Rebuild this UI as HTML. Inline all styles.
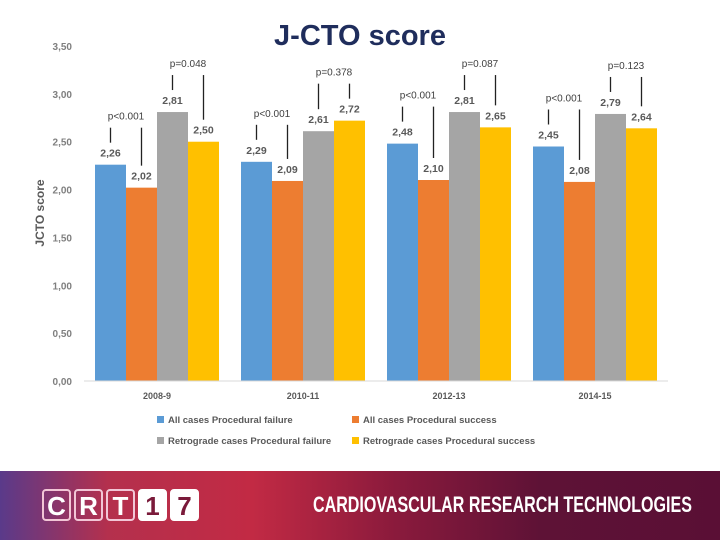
<!DOCTYPE html>
<html><head><meta charset="utf-8"><style>
body{margin:0;width:720px;height:540px;background:#fff;position:relative;overflow:hidden;font-family:"Liberation Sans",sans-serif}
#title{position:absolute;left:0;width:720px;top:20px;text-align:center;font:bold 29px "Liberation Sans",sans-serif;color:#1f2d5c;text-shadow:1px 1px 0 #fff,-1px -1px 0 #fff}
#footer{position:absolute;left:0;top:471px;width:720px;height:69px;background:linear-gradient(90deg,#5a3a8a 0%,#b4304d 15%,#c22a44 35%,#8a1a3c 55%,#5e1236 75%,#5a0f35 100%)}
.lb{position:absolute;top:18px;width:29px;height:32px;border:2px solid #f2c6d6;border-radius:4px;color:#fff;font:bold 26px "Liberation Sans",sans-serif;text-align:center;line-height:30px;box-sizing:border-box}
.lb.f{background:#fff;color:#7a1a3a;border-color:#fff}
#ft{position:absolute;left:313px;top:21px;color:#fff;font:bold 22px "Liberation Sans",sans-serif;transform:scaleX(0.73);transform-origin:left;white-space:nowrap}
</style></head><body>
<div id="title">J-CTO score</div>
<svg id="chart" width="720" height="470" style="position:absolute;left:0;top:0"></svg>
<div id="footer">
 <div class="lb" style="left:42px">C</div>
 <div class="lb" style="left:74px">R</div>
 <div class="lb" style="left:106px">T</div>
 <div class="lb f" style="left:138px">1</div>
 <div class="lb f" style="left:170px">7</div>
 <div id="ft">CARDIOVASCULAR RESEARCH TECHNOLOGIES</div>
</div>
<script>
const categories=["2008-9","2010-11","2012-13","2014-15"];
const seriesNames=["All cases Procedural failure","All cases Procedural success","Retrograde cases Procedural failure","Retrograde cases Procedural success"];
const allFail=[2.26,2.29,2.48,2.45];
const allSucc=[2.02,2.09,2.10,2.08];
const retroFail=[2.81,2.61,2.81,2.79];
const retroSucc=[2.50,2.72,2.65,2.64];
const pAll=["p<0.001","p<0.001","p<0.001","p<0.001"];
const pRetro=["p=0.048","p=0.378","p=0.087","p=0.123"];
const yTicks=[0,0.5,1,1.5,2,2.5,3,3.5];
const colors=["#5b9bd5","#ed7d31","#a5a5a5","#ffc000"];
const series=[allFail,allSucc,retroFail,retroSucc];
const NS="http://www.w3.org/2000/svg";
const svg=document.getElementById('chart');
const x0=84,x1=668,yBase=381,yTop=46,yMax=3.5;
const bw=31;
function y(v){return yBase-(v/yMax)*(yBase-yTop);}
function cx(i){return x0+(x1-x0)/categories.length*(i+0.5);}
function bx(i,s){return cx(i)-2*bw+s*bw;}
function mk(t,a){const e=document.createElementNS(NS,t);for(const k in a)e.setAttribute(k,a[k]);svg.appendChild(e);return e;}
yTicks.forEach(v=>{
 const t=mk('text',{x:72,y:y(v)+4,'text-anchor':'end','font-size':10,'font-weight':'bold',fill:'#7f7f7f'});
 t.textContent=v.toFixed(2).replace('.',',');
 
 
});
const yt=mk('text',{x:44,y:213,transform:'rotate(-90 44 213)','text-anchor':'middle','font-size':12,'font-weight':'bold',fill:'#595959'});
yt.textContent='JCTO score';


series.forEach((arr,s)=>arr.forEach((v,i)=>{
 const r=mk('rect',{x:bx(i,s),y:y(v),width:bw,height:yBase-y(v),fill:colors[s]});
 
 
 const t=mk('text',{x:bx(i,s)+bw/2,y:y(v)-8,'text-anchor':'middle','font-size':10.5,'font-weight':'bold',fill:'#595959'});
 t.textContent=v.toFixed(2).replace('.',',');
 
 
}));
const ax=mk('line',{x1:x0,x2:x1,y1:yBase,y2:yBase,stroke:'#d9d9d9','stroke-width':1});


categories.forEach((c,i)=>{
 const t=mk('text',{x:cx(i),y:yBase+18,'text-anchor':'middle','font-size':9,'font-weight':'bold',fill:'#595959'});
 t.textContent=c;
 
 
});
function annot(i,sA,sB,txt){
 const a=series[sA][i],b=series[sB][i];
 const top=Math.min(y(a),y(b))-45;
 const t=mk('text',{x:(bx(i,sA)+bx(i,sB))/2+bw/2,y:top,'text-anchor':'middle','font-size':10,fill:'#404040'});
 t.textContent=txt;
 
 
 [[sA,a],[sB,b]].forEach(([s,v])=>{
  const l=mk('line',{x1:bx(i,s)+bw/2,x2:bx(i,s)+bw/2,y1:top+8,y2:y(v)-22,stroke:'#222','stroke-width':1.3});
  
  
 });
}
categories.forEach((c,i)=>{annot(i,0,1,pAll[i]);annot(i,2,3,pRetro[i]);});
seriesNames.forEach((n,s)=>{
 const lx=s%2?352:157,ly=s<2?420:441;
 const r=mk('rect',{x:lx,y:ly-4,width:7,height:7,fill:colors[s]});
 
 
 const t=mk('text',{x:lx+11,y:ly+3,'font-size':9.5,'font-weight':'bold',fill:'#595959'});
 t.textContent=n;
 
 
});
</script>
</body></html>
